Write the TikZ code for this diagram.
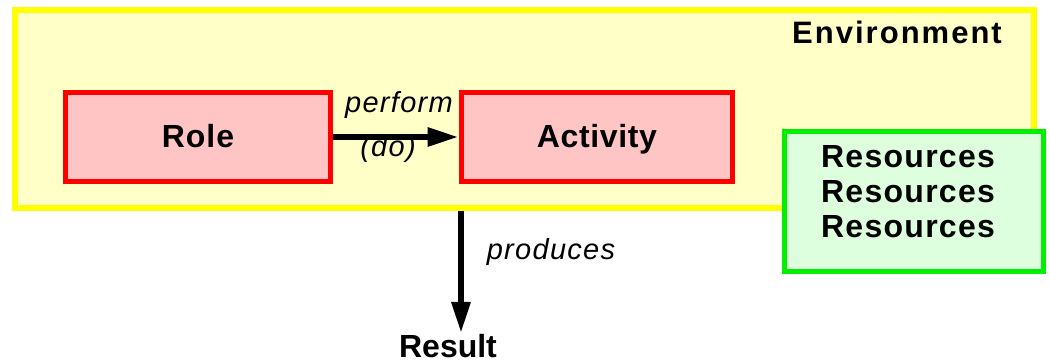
\documentclass[tikz,border=0pt]{standalone}
\usepackage{fontspec}
\setmainfont{Liberation Sans}
\usetikzlibrary{arrows.meta}
\definecolor{envfill}{RGB}{255,255,200}
\definecolor{envline}{RGB}{255,255,0}
\definecolor{rolefill}{RGB}{255,196,196}
\definecolor{roleline}{RGB}{255,0,0}
\definecolor{resfill}{RGB}{222,255,222}
\definecolor{resline}{RGB}{0,240,0}
\begin{document}
\begin{tikzpicture}[x=1pt,y=-1pt,
  envbox/.style={draw=envline,fill=envfill,line width=6pt,minimum width=1019pt,minimum height=198pt,inner sep=0pt},
  actbox/.style={draw=roleline,fill=rolefill,line width=5pt,minimum height=88.5pt,inner sep=0pt},
  resbox/.style={draw=resline,fill=resfill,line width=5pt,minimum width=259pt,minimum height=140pt,inner sep=0pt},
  bold/.style 2 args={font=\bfseries\fontsize{#1}{#1}\selectfont\addfontfeature{LetterSpace=#2},inner sep=0pt,anchor=base},
  lbl/.style={font=\itshape\fontsize{29}{29}\selectfont\addfontfeature{LetterSpace=4.5},inner sep=0pt,anchor=base},
  arr/.style={line width=6pt,-{Triangle[length=31pt,width=18pt]}}]
\useasboundingbox (0,0) rectangle (1050,363);
% environment frame
\node[envbox] (env) at (524.5,109) {};
\node[bold={31}{6.5}] (envlbl) at (897,44) {Environment};
% role and activity
\node[actbox,minimum width=265pt] (role) at (198,137) {};
\node[bold={32}{3}] (rolelbl) at (198,148) {Role};
\node[actbox,minimum width=271pt] (act) at (596.5,137) {};
\node[bold={32}{2}] (actlbl) at (597,148) {Activity};
\draw[arr] (role) -- (act);
\node[lbl] (perform) at (399,113) {perform};
\node[lbl] (do) at (388,157) {(do)};
% resources
\node[resbox] (res) at (913.5,202) {};
\node[bold={32}{4}] (res1) at (908,168) {Resources};
\node[bold={32}{4}] (res2) at (908,203) {Resources};
\node[bold={32}{4}] (res3) at (908,238) {Resources};
% result
\node[bold={32}{0}] (result) at (448,358) {Result};
\coordinate (resulttop) at (461,333);
\draw[arr] (env.south -| resulttop) -- (resulttop);
\node[lbl] (produces) at (551,260) {produces};
\end{tikzpicture}
\end{document}
